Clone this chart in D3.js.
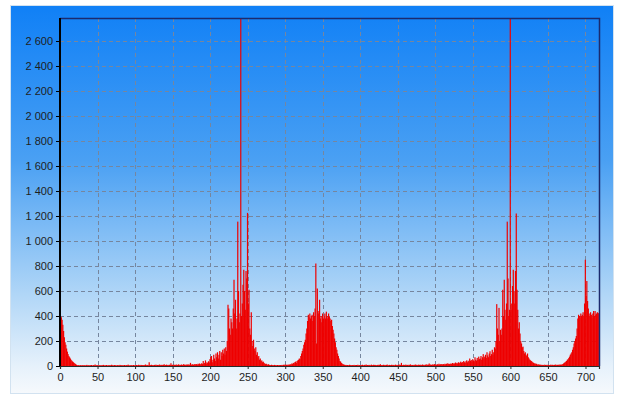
<!DOCTYPE html>
<html>
<head>
<meta charset="utf-8">
<script src="https://cdn.jsdelivr.net/npm/d3@7"></script>
<style>
  html, body { margin: 0; padding: 0; background: #fff; }
  svg { display: block; }
  text { font-family: "Liberation Sans", Arial, sans-serif; font-size: 11px; fill: #1e1e1e; }
</style>
</head>
<body>
<div id="chart"></div>
<script>
// Histogram counts, one value per bin (bins 0..717)
const counts000 = [
  400,390,370,330,280,230,190,170,140,115,95,80,70,60,50,42,36,30,25,20,15,10,7,5,
  6,4,5,8,3,6,4,7,5,4,
  6,9,4,5,7,3,6,8,5,4,
  7,5,12,4,6,5,8,3,6,5,
  4,7,5,9,6,4,5,8,6,3,
  6,5,7,4,10,5,6,4,8,5,
  6,3,7,5,4,9,6,5,7,4,
  5,8,6,4,7,5,11,6,4,5,
  7,6,4,8,5,6
];
const counts100 = [
  6,8,5,7,10,6,5,9,7,6,
  8,5,7,12,6,9,7,5,30,8,
  7,10,6,8,5,9,7,11,6,8,
  9,7,12,6,8,10,7,9,14,6,
  8,11,7,9,6,10,8,22,7,9,
  11,8,10,7,12,9,8,13,10,7,
  9,12,8,10,15,9,11,8,12,10,
  13,9,11,25,10,12,14,9,13,16,
  12,15,10,18,14,20,13,17,22,15,
  40,18,25,45,20,30,24,38,28,55
];
const counts200 = [
  70,80,30,50,90,60,40,100,70,110,
  60,90,120,50,110,80,130,100,140,90,
  150,120,200,490,460,300,250,380,350,300,
  460,690,420,530,300,380,1155,600,350,420,
  2800,400,500,650,770,600,450,760,700,1225,
  500,610,300,250,430,200,160,210,140,120,
  150,90,110,70,80,50,60,40,45,30,
  35,25,20,15,18,12,10,14,9,8,
  7,10,6,8,5,9,6,7,5,8,
  6,5,8,7,6,9,5,10,7,12
];
const counts300 = [
  8,10,7,12,9,11,14,10,20,15,
  25,20,30,35,25,40,45,50,60,55,
  80,100,120,140,170,190,210,260,300,360,
  410,390,420,380,400,410,360,430,400,460,
  820,180,620,440,420,530,380,400,350,420,
  380,400,420,380,435,400,380,420,395,380,
  360,370,320,290,260,220,190,150,130,100,
  80,60,40,35,25,20,15,12,10,8,
  9,6,8,5,7,10,6,8,5,7,
  6,9,5,7,8,6,10,5,7,6
];
const counts400 = [
  8,6,10,7,5,9,6,12,7,8,
  6,9,7,5,11,8,6,10,7,9,
  8,5,7,10,6,9,14,7,8,6,
  10,7,9,6,8,12,7,5,9,8,
  7,10,6,9,8,5,11,7,9,6,
  8,12,7,9,25,8,6,10,7,9,
  11,7,9,6,10,8,13,7,9,8,
  6,10,8,12,7,9,6,11,8,10,
  9,7,12,8,10,6,9,14,8,11,
  10,20,9,12,8,11,13,9,15,10
];
const counts500 = [
  12,9,14,10,18,11,13,16,10,14,
  15,12,18,13,16,22,14,19,15,17,
  20,16,24,18,22,19,28,21,25,20,
  30,23,27,35,25,32,28,40,30,26,
  38,45,30,42,35,60,40,48,36,55,
  45,38,70,50,42,65,48,75,55,60,
  80,50,70,95,60,75,90,65,110,85,
  70,100,118,80,95,130,90,110,150,140,
  200,495,300,250,465,200,290,250,300,610,
  400,690,450,370,500,1155,700,400,450,2800
];
const counts600 = [
  450,500,640,770,600,500,760,1220,610,450,
  300,350,260,200,180,150,155,120,100,110,
  90,80,100,70,60,50,45,40,35,30,
  25,20,22,15,18,12,10,14,9,11,
  8,10,7,9,6,11,8,7,10,6,
  9,7,8,11,6,10,7,9,8,12,
  7,10,9,8,12,9,11,10,13,15,
  20,25,30,35,40,50,55,65,75,90,
  100,110,130,150,180,200,220,240,300,380,
  410,400,390,420,400,410,430,400,500,850
];
const counts700 = [
  560,680,520,460,420,400,430,410,390,420,440,400,440,410,420,430,425,420
];

const xTicks = [0, 50, 100, 150, 200, 250, 300, 350, 400, 450, 500, 550, 600, 650, 700];
const yTicks = [0, 200, 400, 600, 800, 1000, 1200, 1400, 1600, 1800, 2000, 2200, 2400, 2600];

const counts = [].concat(counts000, counts100, counts200, counts300,
                         counts400, counts500, counts600, counts700);
const bins = counts.map((v, i) => ({ bin: i, value: v }));

// Page and plot geometry
const width = 617;
const height = 399;
const plot = { left: 60, top: 18, right: 599, bottom: 366 };

const x = d3.scaleLinear().domain([0, 718]).range([plot.left, plot.right]);
const y = d3.scaleLinear().domain([0, 2784]).range([plot.bottom, plot.top]);

// numbers like "2 600"
const fmt = d3.formatLocale({ decimal: ",", thousands: "\u00a0", grouping: [3], currency: ["", ""] }).format(",d");

const svg = d3.select("#chart")
    .append("svg")
    .attr("width", width)
    .attr("height", height);

const defs = svg.append("defs");

const grad = defs.append("linearGradient")
    .attr("id", "bg")
    .attr("x1", 0).attr("y1", 0)
    .attr("x2", 0).attr("y2", 1);
grad.append("stop").attr("offset", "0%").attr("stop-color", "#1080f6");
grad.append("stop").attr("offset", "40%").attr("stop-color", "#4aa0f3");
grad.append("stop").attr("offset", "75%").attr("stop-color", "#b2d7f7");
grad.append("stop").attr("offset", "93%").attr("stop-color", "#e6f1fb");
grad.append("stop").attr("offset", "100%").attr("stop-color", "#f6f9fc");

defs.append("clipPath")
    .attr("id", "plotClip")
    .append("rect")
    .attr("x", plot.left)
    .attr("y", plot.top)
    .attr("width", plot.right - plot.left)
    .attr("height", plot.bottom - plot.top);

// background panel
svg.append("rect")
    .attr("x", 10.5)
    .attr("y", 5.5)
    .attr("width", 603)
    .attr("height", 388)
    .attr("fill", "url(#bg)")
    .attr("stroke", "#d2e2f0")
    .attr("stroke-width", 1);

// dashed grid
const grid = svg.append("g")
    .attr("stroke", "#76869e")
    .attr("stroke-width", 1)
    .attr("stroke-dasharray", "4,3");

grid.selectAll("line.v")
    .data(xTicks.filter(d => d > 0))
    .enter()
    .append("line")
    .attr("class", "v")
    .attr("x1", d => Math.round(x(d)) + 0.5)
    .attr("x2", d => Math.round(x(d)) + 0.5)
    .attr("y1", plot.top)
    .attr("y2", plot.bottom);

grid.selectAll("line.h")
    .data(yTicks.filter(d => d > 0))
    .enter()
    .append("line")
    .attr("class", "h")
    .attr("x1", plot.left)
    .attr("x2", plot.right)
    .attr("y1", d => Math.round(y(d)) + 0.5)
    .attr("y2", d => Math.round(y(d)) + 0.5);

// histogram bars, slightly widened so neighbours close up
svg.append("g")
    .attr("clip-path", "url(#plotClip)")
    .selectAll("rect")
    .data(bins)
    .enter()
    .append("rect")
    .attr("x", d => x(d.bin))
    .attr("width", d => x(d.bin + 1) - x(d.bin) + 0.45)
    .attr("y", d => y(d.value))
    .attr("height", d => y(0) - y(d.value))
    .attr("fill", "#ee0000");

// frame top and right
svg.append("path")
    .attr("d", `M${plot.left},${plot.top + 0.5}H${plot.right + 0.5}V${plot.bottom}`)
    .attr("fill", "none")
    .attr("stroke", "#1b2a6e")
    .attr("stroke-width", 1.5);

// x axis
const xAxis = svg.append("g")
    .attr("transform", `translate(0,${plot.bottom})`)
    .call(d3.axisBottom(x).tickValues(xTicks).tickSize(3).tickPadding(4).tickFormat(d3.format("d")));
xAxis.select(".domain").attr("stroke", "#2a2a2a").attr("stroke-width", 1.2);
xAxis.selectAll(".tick line").attr("stroke", "#2a2a2a");
xAxis.selectAll("text").style("font-size", "11px").attr("fill", "#1e1e1e");

// y axis
const yAxis = svg.append("g")
    .attr("transform", `translate(${plot.left},0)`)
    .call(d3.axisLeft(y).tickValues(yTicks).tickSize(4).tickPadding(3).tickFormat(fmt));
yAxis.select(".domain")
    .attr("d", `M0,${plot.top}V${plot.bottom}`)
    .attr("stroke", "#000")
    .attr("stroke-width", 2);
yAxis.selectAll(".tick line").attr("stroke", "#000");
yAxis.selectAll("text").style("font-size", "11px").attr("fill", "#1e1e1e");
</script>
</body>
</html>
